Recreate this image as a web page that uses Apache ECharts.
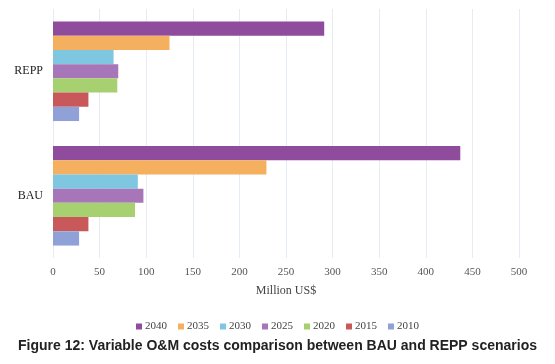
<!DOCTYPE html>
<html>
<head>
<meta charset="utf-8">
<script src="https://cdn.jsdelivr.net/npm/echarts@6/dist/echarts.min.js"></script>
<style>
  html, body { margin: 0; padding: 0; background: #fff; }
  #main { width: 555px; height: 364px; }
</style>
</head>
<body>
<div id="main"></div>
<script>
// scenarios (bottom to top on the y axis)
const categories = ["BAU", "REPP"];
// years, drawn from top bar to bottom bar inside each group
const years = ["2040", "2035", "2030", "2025", "2020", "2015", "2010"];
// values per year: [BAU, REPP], Million US$
const v2040 = [437, 291];
const v2035 = [229, 125];
const v2030 = [91, 65];
const v2025 = [97, 70];
const v2020 = [88, 69];
const v2015 = [38, 38];
const v2010 = [28, 28];
const xTicks = [0, 50, 100, 150, 200, 250, 300, 350, 400, 450, 500];

const values = [v2040, v2035, v2030, v2025, v2020, v2015, v2010];
const colors = ["#8f4b9c", "#f4af5f", "#7fc6e1", "#a676b9", "#a7d070", "#c8585a", "#8fa1d6"];

const chart = echarts.init(document.getElementById("main"));

const series = years.map((y, i) => ({
  name: y,
  type: "bar",
  data: values[i],
  barGap: "0%",
  barCategoryGap: "20%",
  itemStyle: { color: colors[i] }
}));

chart.setOption({
  animation: false,
  title: {
    text: "Figure 12: Variable O&M costs comparison between BAU and REPP scenarios",
    left: "center",
    bottom: 6,
    textStyle: {
      fontFamily: "Liberation Sans",
      fontWeight: "bold",
      fontSize: 14,
      color: "#222"
    }
  },
  legend: {
    data: years,
    left: "center",
    top: 316,
    icon: "rect",
    itemWidth: 6,
    itemHeight: 6,
    itemGap: 11,
    textStyle: { fontFamily: "Liberation Serif", fontSize: 11, color: "#444", padding: [0, 0, 0, -2] }
  },
  grid: { left: 53, right: 36, top: 9, bottom: 106 },
  xAxis: {
    type: "value",
    min: xTicks[0],
    max: xTicks[xTicks.length - 1],
    interval: 50,
    name: "Million US$",
    nameLocation: "middle",
    nameGap: 27,
    nameTextStyle: { fontFamily: "Liberation Serif", fontSize: 12, color: "#444" },
    axisLine: { show: false },
    axisTick: { show: false },
    axisLabel: { fontFamily: "Liberation Serif", fontSize: 11, color: "#555", margin: 9 },
    splitLine: { lineStyle: { color: "#e6ecf3", width: 1 } }
  },
  yAxis: {
    type: "category",
    data: categories,
    axisLine: { show: false },
    axisTick: { show: false },
    axisLabel: { fontFamily: "Liberation Serif", fontSize: 12, color: "#222", margin: 10 }
  },
  series: series
});
</script>
</body>
</html>
